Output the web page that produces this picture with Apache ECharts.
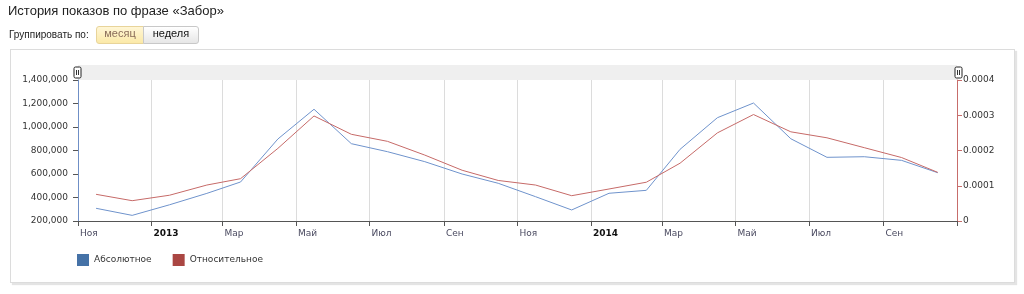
<!DOCTYPE html>
<html>
<head>
<meta charset="utf-8">
<script src="https://cdn.jsdelivr.net/npm/echarts@6/dist/echarts.min.js"></script>
<style>
  html, body { margin: 0; padding: 0; background: #fff; width: 1024px; height: 294px; overflow: hidden; }
  #panel { position: absolute; left: 10px; top: 49px; width: 1003px; height: 232px; border: 1px solid #dcdcdc; box-shadow: 2px 2px 1px #e4e4e4; background: #fff; }
  #chart { position: absolute; left: 0; top: 0; width: 1024px; height: 294px; }
  #title { position: absolute; left: 8px; top: 3px; font: 13px "Liberation Sans", Arial, sans-serif; color: #222; white-space: nowrap; }
  #group { position: absolute; left: 9px; top: 29px; font: 10px "Liberation Sans", Arial, sans-serif; color: #222; white-space: nowrap; }
  .btn { position: absolute; top: 26px; height: 18px; line-height: 16px; font: 11px "Liberation Sans", Arial, sans-serif; text-align: center; box-sizing: border-box; }
  #b1 { left: 96px; width: 48px; background: linear-gradient(#fff6d6, #fbe9a8); border: 1px solid #e8d49a; border-radius: 3px 0 0 3px; color: #8a6d5a; }
  #b2 { left: 143px; width: 56px; background: linear-gradient(#ffffff, #e6e6e6); border: 1px solid #c8c8c8; border-radius: 0 3px 3px 0; color: #111; }
</style>
</head>
<body>
<div id="panel"></div>
<div id="chart"></div>
<div id="title">История показов по фразе «Забор»</div>
<div id="group">Группировать по:</div>
<div class="btn" id="b1">месяц</div>
<div class="btn" id="b2">неделя</div>
<script>
// ---- data ----
const months = ['2012-11','2012-12','2013-01','2013-02','2013-03','2013-04','2013-05','2013-06',
  '2013-07','2013-08','2013-09','2013-10','2013-11','2013-12','2014-01','2014-02','2014-03',
  '2014-04','2014-05','2014-06','2014-07','2014-08','2014-09','2014-10'];
const absoluteValues = [308000, 248000, 338000, 435000, 532000, 898000, 1151000, 858000,
  790000, 705000, 600000, 521000, 407000, 294000, 436000, 461000, 810000,
  1079000, 1204000, 900000, 742000, 747000, 716000, 611000];
const relativeValues = [0.0000757, 0.0000576, 0.0000731, 0.000102, 0.00012, 0.000206, 0.000298, 0.000246,
  0.000226, 0.000187, 0.000144, 0.000115, 0.000102, 0.0000718, 0.0000908, 0.00011, 0.000164,
  0.00025, 0.000302, 0.000253, 0.000236, 0.000208, 0.00018, 0.000138];
const seriesNames = ['Абсолютное', 'Относительное'];
const monthNames = ['Янв','Фев','Мар','Апр','Май','Июн','Июл','Авг','Сен','Окт','Ноя','Дек'];
const axisStart = '2012-11';
const axisEnd = '2014-11';
const leftTicks = [200000, 1400000, 200000];   // min, max, interval
const rightTicks = [0, 0.0004, 0.0001];

// ---- helpers ----
function monthTs(s, day) { const p = s.split('-'); return Date.UTC(+p[0], +p[1] - 1, day); }
const pointTs = months.map(m => monthTs(m, 16));
const absData = pointTs.map((t, i) => [t, absoluteValues[i]]);
const relData = pointTs.map((t, i) => [t, relativeValues[i]]);
const minTs = monthTs(axisStart, 1), maxTs = monthTs(axisEnd, 1);
const tickTs = [];
{ const d = new Date(minTs); while (d.getTime() <= maxTs) { tickTs.push(d.getTime()); d.setUTCMonth(d.getUTCMonth() + 2); } }
const labelTs = tickTs.filter(t => t < maxTs);

const chart = echarts.init(document.getElementById('chart'), null, { renderer: 'canvas' });
const font = '"DejaVu Sans", Verdana, sans-serif';
chart.setOption({
  backgroundColor: 'transparent',
  animation: false,
  grid: { left: 78, right: 67, top: 80, bottom: 73, containLabel: false },
  legend: {
    left: 77, top: 254, padding: 0, icon: 'rect', itemWidth: 12, itemHeight: 12, itemGap: 21,
    textStyle: { fontFamily: font, fontSize: 9, color: '#333' },
    data: seriesNames
  },
  xAxis: {
    type: 'value', min: minTs, max: maxTs, scale: true,
    axisLine: { lineStyle: { color: '#555', width: 1 } },
    axisTick: { show: true, length: 5, customValues: tickTs, lineStyle: { color: '#555' } },
    splitLine: { show: true, lineStyle: { color: '#dcdcdc', width: 1 } },
    axisLabel: {
      customValues: labelTs, align: 'left', margin: 8, padding: [0, 0, 0, 2],
      fontFamily: font, fontSize: 9, color: '#4a4a60',
      formatter: function (v) {
        const d = new Date(v);
        if (d.getUTCMonth() === 0) return '{y|' + d.getUTCFullYear() + '}';
        return monthNames[d.getUTCMonth()];
      },
      rich: { y: { fontFamily: font, fontSize: 9, fontWeight: 'bold', color: '#111' } }
    }
  },
  yAxis: [
    {
      type: 'value', position: 'left', min: leftTicks[0], max: leftTicks[1], interval: leftTicks[2],
      axisLine: { show: true, lineStyle: { color: '#6f8fc6', width: 1 } },
      axisTick: { show: true, length: 5, lineStyle: { color: '#555' } },
      splitLine: { show: false },
      axisLabel: { margin: 10, fontFamily: font, fontSize: 9, color: '#333',
        formatter: v => v.toLocaleString('en-US') }
    },
    {
      type: 'value', position: 'right', min: rightTicks[0], max: rightTicks[1], interval: rightTicks[2],
      axisLine: { show: true, lineStyle: { color: '#c76d6b', width: 1 } },
      axisTick: { show: true, length: 5, lineStyle: { color: '#c76d6b' } },
      splitLine: { show: false },
      axisLabel: { margin: 6, fontFamily: font, fontSize: 9, color: '#333',
        formatter: v => v === 0 ? '0' : v.toFixed(4) }
    }
  ],
  graphic: [
    { type: 'rect', shape: { x: 78, y: 65, width: 879, height: 15 }, style: { fill: '#efefef' }, silent: true, z: 0 },
    { type: 'group', x: 74, y: 67, children: [
      { type: 'rect', shape: { x: 0, y: 0, width: 7, height: 11, r: 1.5 }, style: { fill: '#fff', stroke: '#222', lineWidth: 1 } },
      { type: 'line', shape: { x1: 2.5, y1: 3, x2: 2.5, y2: 8 }, style: { stroke: '#333', lineWidth: 1 } },
      { type: 'line', shape: { x1: 4.5, y1: 3, x2: 4.5, y2: 8 }, style: { stroke: '#333', lineWidth: 1 } }
    ] },
    { type: 'group', x: 955, y: 67, children: [
      { type: 'rect', shape: { x: 0, y: 0, width: 7, height: 11, r: 1.5 }, style: { fill: '#fff', stroke: '#222', lineWidth: 1 } },
      { type: 'line', shape: { x1: 2.5, y1: 3, x2: 2.5, y2: 8 }, style: { stroke: '#333', lineWidth: 1 } },
      { type: 'line', shape: { x1: 4.5, y1: 3, x2: 4.5, y2: 8 }, style: { stroke: '#333', lineWidth: 1 } }
    ] }
  ],
  series: [
    { name: seriesNames[0], type: 'line', yAxisIndex: 0, data: absData, showSymbol: false, symbol: 'none',
      itemStyle: { color: '#4572A7' }, lineStyle: { color: '#6f93cc', width: 1 } },
    { name: seriesNames[1], type: 'line', yAxisIndex: 1, data: relData, showSymbol: false, symbol: 'none',
      itemStyle: { color: '#AA4643' }, lineStyle: { color: '#c66a68', width: 1 } }
  ]
});
</script>
</body>
</html>
